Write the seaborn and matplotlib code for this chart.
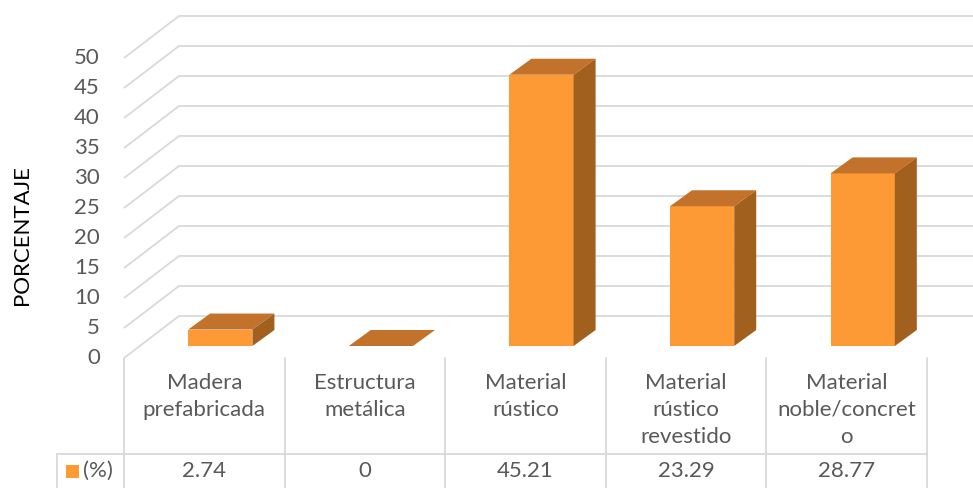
import matplotlib
matplotlib.use("Agg")
import matplotlib.pyplot as plt
from matplotlib.patches import Polygon, Rectangle
import seaborn as sns
import pandas as pd

# --- data ---------------------------------------------------------------
categories = ["Madera prefabricada", "Estructura metálica", "Material rústico",
              "Material rústico revestido", "Material noble/concreto"]
label_lines = [["Madera", "prefabricada"],
               ["Estructura", "metálica"],
               ["Material", "rústico"],
               ["Material", "rústico", "revestido"],
               ["Material", "noble/concret", "o"]]
values = [2.74, 0, 45.21, 23.29, 28.77]
value_labels = ["2.74", "0", "45.21", "23.29", "28.77"]
yticks = [0, 5, 10, 15, 20, 25, 30, 35, 40, 45, 50]
series_name = "(%)"
ylabel = "PORCENTAJE"

# --- style --------------------------------------------------------------
sns.set_theme(style="white")
plt.rcParams["font.family"] = ["Lato", "DejaVu Sans"]

FRONT = "#FD9A35"
TOP = "#C2722A"
SIDE = "#A2601F"
GRID = "#D9D9D9"
TEXT = "#595959"
FS = 16

W, H = 973, 488
fig = plt.figure(figsize=(W / 100, H / 100), dpi=100)
ax = fig.add_axes([0, 0, 1, 1])

# pixel geometry of the pseudo-3D frame
col_w = 160.6              # px per category column
col_left = 124             # px, left edge of first column (front plane)
px_per_unit = 6.0          # px per percentage point
bar_base_px = 346          # px from top where bar-plane value 0 sits
bar_shift_px = (16, 12)    # front plane -> bar front plane (right, up)
depth_px = (55, 42)        # front plane -> back wall
bar_depth_px = (22, 16)    # bar front -> bar back

# data coordinates = bar front plane
x_left_px = col_left + bar_shift_px[0]
ax.set_xlim(-0.5 - x_left_px / col_w, -0.5 + (W - x_left_px) / col_w)
ax.set_ylim(-(H - bar_base_px) / px_per_unit, bar_base_px / px_per_unit)
xl, xr = ax.get_xlim()
yb, yt = ax.get_ylim()


def px(x, y):
    """pixel position (from top-left) -> data coordinates"""
    return xl + x / col_w, yt - y / px_per_unit


def dxu(p):
    return p / col_w


def dyu(p):
    return p / px_per_unit


# front-plane offset (relative to bar plane) and back-wall offset
fx, fy = -dxu(bar_shift_px[0]), -dyu(bar_shift_px[1])
bx, by = fx + dxu(depth_px[0]), fy + dyu(depth_px[1])
x_front_left = -0.5 + fx

# gridlines: diagonal on the side wall, horizontal on the back wall
for t in yticks:
    ax.plot([x_front_left, x_front_left + dxu(depth_px[0]), xr],
            [t + fy, t + by, t + by], color=GRID, lw=1.3,
            solid_capstyle="butt", zorder=1, clip_on=False)
    ax.text(px(100, 0)[0], t + fy, str(t), ha="right", va="center",
            fontsize=FS, color=TEXT)

# bars (front faces)
df = pd.DataFrame({"cat": categories, "val": values})
sns.barplot(data=df, x="cat", y="val", ax=ax, color=FRONT, width=0.4,
            saturation=1, edgecolor="none", zorder=3)
ax.set_xlim(xl, xr)
ax.set_ylim(yb, yt)

# top and side faces
ddx, ddy = dxu(bar_depth_px[0]), dyu(bar_depth_px[1])
for i, v in enumerate(values):
    x0, x1 = i - 0.2, i + 0.2
    ax.add_patch(Polygon([(x0, v), (x1, v), (x1 + ddx, v + ddy), (x0 + ddx, v + ddy)],
                         closed=True, facecolor=TOP, edgecolor="none", zorder=4))
    if v > 0:
        ax.add_patch(Polygon([(x1, 0), (x1, v), (x1 + ddx, v + ddy), (x1 + ddx, ddy)],
                             closed=True, facecolor=SIDE, edgecolor="none", zorder=4))

# data table
table_top = 0 + fy
row_y = px(0, 454)[1]
bottom_y = yb
for k in range(len(categories) + 1):
    xk = x_front_left + k
    ax.plot([xk, xk], [table_top, bottom_y], color=GRID, lw=1.3, zorder=2,
            clip_on=False)
x57 = px(57, 0)[0]
ax.plot([x57, x_front_left + len(categories)], [row_y, row_y], color=GRID,
        lw=1.3, zorder=2)
ax.plot([x57, x57], [row_y, bottom_y], color=GRID, lw=1.3, zorder=2)

for i, lines in enumerate(label_lines):
    cx = x_front_left + i + 0.5
    for j, s in enumerate(lines):
        ax.text(cx, px(0, 383 + 27 * j)[1], s, ha="center", va="center",
                fontsize=FS, color=TEXT)
    ax.text(cx, px(0, 471)[1], value_labels[i], ha="center", va="center",
            fontsize=FS, color=TEXT)

# legend key in the table
sx0, sy0 = px(66, 478)
ax.add_patch(Rectangle((sx0, sy0), dxu(13), dyu(13), facecolor=FRONT,
                       edgecolor="none", zorder=3))
ax.text(px(83, 0)[0], px(0, 471)[1], series_name, ha="left", va="center",
        fontsize=FS, color=TEXT)

# axis title
ax.text(px(22, 0)[0], px(0, 235)[1], ylabel, rotation=90, ha="center",
        va="center", fontsize=FS, color="#000000")

ax.set_axis_off()
fig.savefig("out.png", dpi=100)
